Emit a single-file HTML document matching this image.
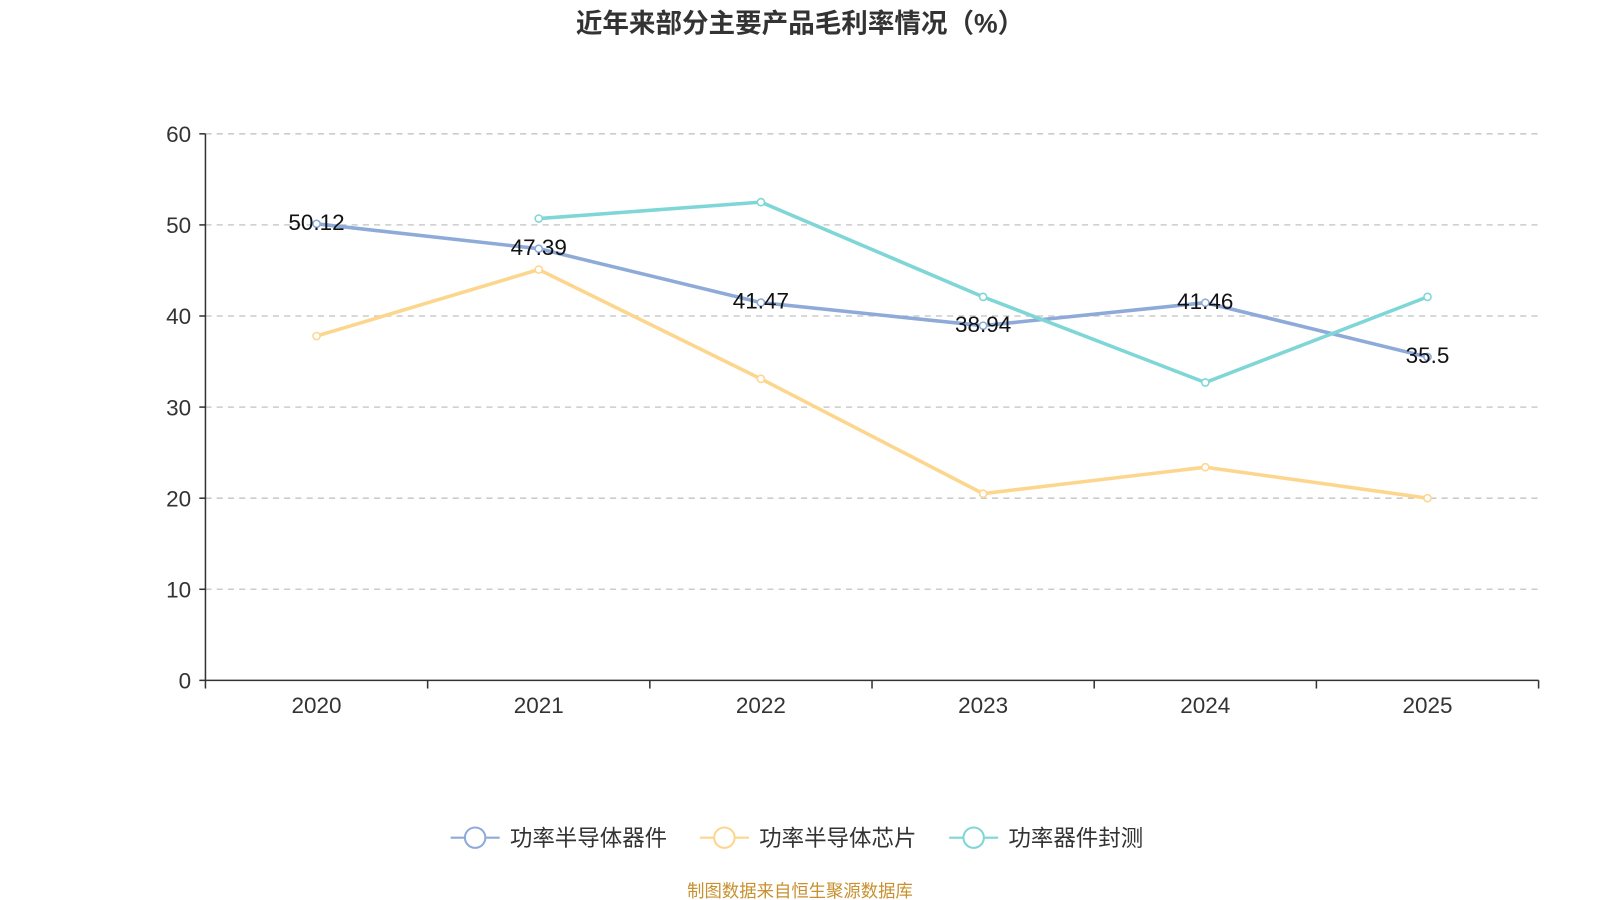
<!DOCTYPE html>
<html><head><meta charset="utf-8">
<style>
body{margin:0;background:#fff;width:1600px;height:900px;overflow:hidden;font-family:"Liberation Sans","Noto Sans CJK SC",sans-serif;}
svg{display:block}
</style></head>
<body>
<svg id="chart" width="1600" height="900" viewBox="0 0 1566 881" xmlns="http://www.w3.org/2000/svg" font-family="Liberation Sans, Noto Sans CJK SC, sans-serif">
<text x="783" y="32" text-anchor="middle" font-size="26" font-weight="bold" fill="#333">近年来部分主要产品毛利率情况（%）</text>
<g id="grid"></g><g id="axes"></g><g id="series"></g><g id="legend"></g>
<text x="783" y="878" text-anchor="middle" font-size="17" fill="#c8902e">制图数据来自恒生聚源数据库</text>
</svg>
<script>
const categories = ["2020","2021","2022","2023","2024","2025"];
const seriesNames = ["功率半导体器件","功率半导体芯片","功率器件封测"];
const seriesColors = ["#8eaad9","#fdd68e","#7fd6d6"];
const devices = [50.12,47.39,41.47,38.94,41.46,35.5];
const chips = [37.8,45.1,33.1,20.5,23.4,20.0];
const packaging = [null,50.7,52.5,42.1,32.7,42.1];
const yTicks = [0,10,20,30,40,50,60];
const allSeries = [devices, chips, packaging];
const NS = "http://www.w3.org/2000/svg";
const x0=201,x1=1506,yTop=131,yBot=666;
const band=(x1-x0)/categories.length;
const xs=i=>x0+band*(i+0.5);
const ys=v=>yBot-(v-0)/(60-0)*(yBot-yTop);
function mk(tag,attrs,parent,text){const e=document.createElementNS(NS,tag);for(const k in attrs)e.setAttribute(k,attrs[k]);if(text!=null)e.textContent=text;parent.appendChild(e);return e;}
const grid=document.getElementById('grid'),axes=document.getElementById('axes'),ser=document.getElementById('series'),leg=document.getElementById('legend');
yTicks.forEach(t=>{
  const y=ys(t);
  if(t>0){const l=mk('line',{x1:x0,x2:x1,y1:y,y2:y,stroke:'#ccc','stroke-width':1.5,'stroke-dasharray':'6,5'},grid);
  
  }
  const tk=mk('line',{x1:x0-6,x2:x0,y1:y,y2:y,stroke:'#333','stroke-width':1.5},axes);
  
  
  const lb=mk('text',{x:x0-14,y:y+8,'text-anchor':'end','font-size':22,fill:'#333'},axes,String(t));
  
  
});
const ya=mk('line',{x1:x0,x2:x0,y1:yTop,y2:yBot,stroke:'#333','stroke-width':1.5},axes);


const xa=mk('line',{x1:x0,x2:x1,y1:yBot,y2:yBot,stroke:'#333','stroke-width':1.5},axes);


for(let i=0;i<=categories.length;i++){const x=x0+band*i;const t=mk('line',{x1:x,x2:x,y1:yBot,y2:yBot+8,stroke:'#333','stroke-width':1.5},axes);

}
categories.forEach((c,i)=>{const t=mk('text',{x:xs(i),y:698,'text-anchor':'middle','font-size':22,fill:'#333'},axes,c);

});
allSeries.forEach((data,si)=>{
  const g=mk('g',{},ser);
  
  
  let d='';data.forEach((v,i)=>{if(v==null)return;d+=(d?'L':'M')+xs(i)+','+ys(v);});
  const p=mk('path',{d:d,fill:'none',stroke:seriesColors[si],'stroke-width':3.5},g);
  
  
  data.forEach((v,i)=>{if(v==null)return;
    const c=mk('circle',{cx:xs(i),cy:ys(v),r:3.5,fill:'#fff',stroke:seriesColors[si],'stroke-width':1.5},g);
    
    
    if(si===0){const t=mk('text',{x:xs(i),y:ys(v)+6,'text-anchor':'middle','font-size':22,fill:'#111'},g,String(v));
      
      }
  });
});
const lx=[441,685,929];
seriesNames.forEach((n,i)=>{
  const g=mk('g',{},leg);
  
  
  mk('line',{x1:lx[i],x2:lx[i]+48,y1:820,y2:820,stroke:seriesColors[i],'stroke-width':2},g);
  mk('circle',{cx:lx[i]+24,cy:820,r:10,fill:'#fff',stroke:seriesColors[i],'stroke-width':2},g);
  mk('text',{x:lx[i]+58,y:828,'font-size':22,fill:'#333'},g,n);
});
</script>
</body></html>
